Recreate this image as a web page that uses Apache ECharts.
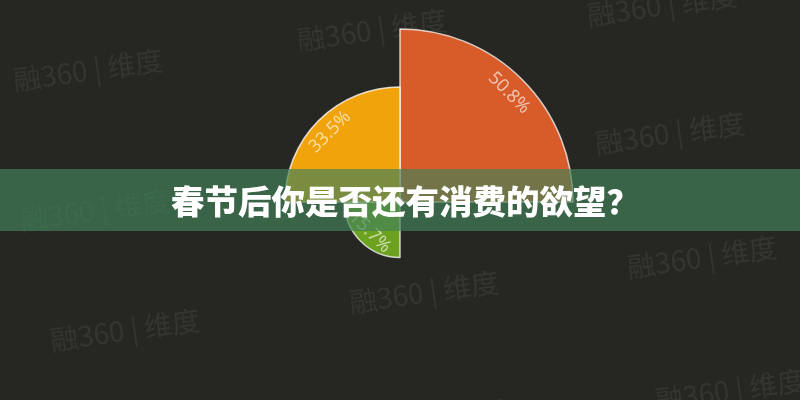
<!DOCTYPE html>
<html>
<head>
<meta charset="utf-8">
<script src="https://cdn.jsdelivr.net/npm/echarts@6/dist/echarts.min.js"></script>
<style>
  html, body { margin: 0; padding: 0; background: #262723; }
  #chart { width: 800px; height: 400px; }
</style>
</head>
<body>
<div id="chart"></div>
<script>
// ---- data (clockwise from 12 o'clock, one quadrant each; the empty quadrant has no value) ----
const titleText = '春节后你是否还有消费的欲望？';
const sliceNames = ['A', '', 'B', 'C'];
const sliceValues = [50.8, 0, 15.7, 33.5];
const sliceLabels = ['50.8%', '', '15.7%', '33.5%'];
const watermarkText = '融360 | 维度';

// ---- styles ----
const sliceColors = ['#d85c29', 'rgba(0,0,0,0)', '#6ca21e', '#f0a30a'];
const watermarkSpots = [
  [88, 70], [372, 30], [662, 5],
  [95, 210], [385, 172], [670, 133],
  [125, 330], [424, 292], [702, 257],
  [730, 390], [440, 420]
];

const chart = echarts.init(document.getElementById('chart'), null, { renderer: 'canvas' });

const data = sliceValues.map((v, i) => {
  const empty = sliceLabels[i] === '';
  return {
    name: sliceNames[i],
    value: v,
    itemStyle: empty
      ? { color: sliceColors[i], borderWidth: 0 }
      : { color: sliceColors[i] },
    label: { show: !empty, formatter: sliceLabels[i] }
  };
});

const graphics = watermarkSpots.map(p => ({
  type: 'text',
  x: p[0], y: p[1],
  rotation: 0.14,
  silent: true,
  z: 1,
  style: {
    text: watermarkText,
    fill: 'rgba(255,255,255,0.065)',
    font: '28px "Noto Sans CJK SC"',
    textAlign: 'center',
    textVerticalAlign: 'middle'
  }
}));
graphics.push({
  type: 'rect',
  shape: { x: 0, y: 169, width: 800, height: 62 },
  silent: true,
  z: 10,
  style: { fill: 'rgba(66,130,88,0.68)' }
});

const option = {
  backgroundColor: '#262723',
  animation: false,
  title: {
    text: titleText,
    left: 171,
    top: 185,
    padding: 0,
    z: 20,
    textStyle: {
      color: '#ffffff',
      fontSize: 33.5,
      fontWeight: 900,
      fontFamily: '"Noto Sans CJK SC"'
    }
  },
  graphic: graphics,
  series: [{
    type: 'pie',
    roseType: 'area',
    center: [400, 202],
    radius: [3, 173],
    startAngle: 90,
    clockwise: true,
    avoidLabelOverlap: false,
    z: 5,
    itemStyle: {
      borderColor: 'rgba(255,255,255,0.75)',
      borderWidth: 1.5
    },
    label: {
      position: 'inside',
      rotate: 'tangential',
      color: 'rgba(255,255,255,0.65)',
      fontSize: 18,
      fontFamily: '"Open Sans"'
    },
    labelLine: { show: false },
    emphasis: { disabled: true },
    labelLayout: function (params) {
      const n = sliceValues.length;
      const i = params.dataIndex;
      const cx = 400, cy = 202;
      const r = params.rect;
      const R = Math.max(cx - r.x, r.x + r.width - cx, cy - r.y, r.y + r.height - cy);
      const mid = (90 - (i + 0.5) * 360 / n) * Math.PI / 180;
      const rr = 0.95 * R - 11;
      return {
        x: cx + rr * Math.cos(mid),
        y: cy - rr * Math.sin(mid),
        align: 'center',
        verticalAlign: 'middle'
      };
    },
    data: data
  }]
};

chart.setOption(option);
</script>
</body>
</html>
